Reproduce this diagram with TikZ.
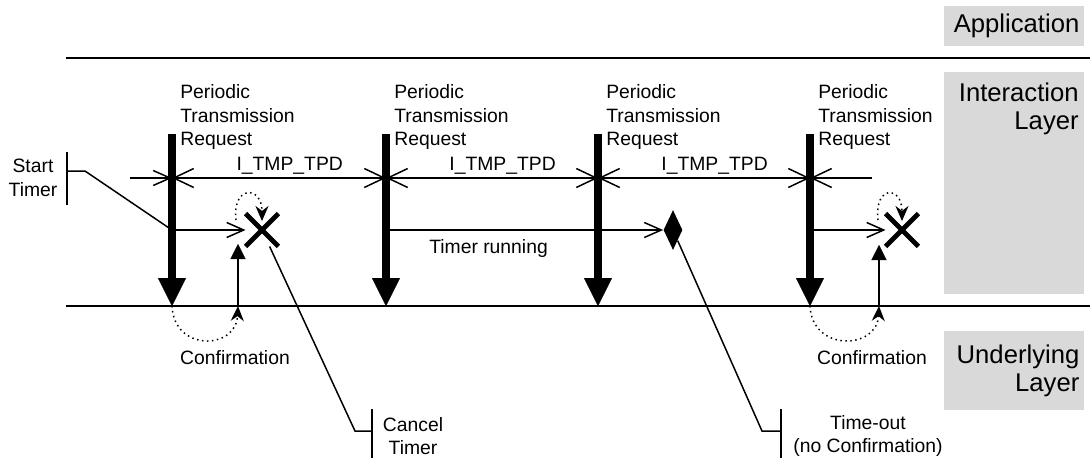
\documentclass[tikz,border=0pt]{standalone}
\usepackage{fontspec}
\setmainfont{Liberation Sans}
\usetikzlibrary{positioning, arrows.meta, shapes.geometric, shapes.misc}
\definecolor{laygray}{RGB}{217,217,217}

\begin{document}
\begin{tikzpicture}[
  x=0.02cm, y=-0.02cm,
  txt/.style={font=\fontsize{11}{13.3}\selectfont, inner sep=0pt, align=center},
  laytxt/.style={font=\fontsize{14.6}{15.9}\selectfont, inner sep=0pt, align=right},
  graybox/.style={fill=laygray, anchor=north west, minimum width=2.8cm, inner sep=0pt},
  thinline/.style={line width=0.85pt},
  request/.style={line width=4pt, -{Triangle[length=0.56cm, width=0.56cm, line width=0.1pt]}},
  timer/.style={thinline, -{Straight Barb[length=0.34cm, width=0.3cm]}},
  period/.style={thinline, {Straight Barb[length=0.4cm, width=0.38cm]}-{Straight Barb[length=0.4cm, width=0.38cm]}},
  confirm/.style={thinline, -{Triangle[length=0.3cm, width=0.3cm, line width=0.1pt]}},
  loopback/.style={thinline, dotted, -{Stealth[length=0.3cm, width=0.26cm]}},
  cancel/.style={cross out, draw, line width=2.8pt, minimum size=0.56cm, inner sep=0pt},
  timeout/.style={diamond, fill, inner sep=0pt, minimum width=0.38cm, minimum height=0.8cm}
]
  \useasboundingbox (0,0) rectangle (1090,458);

  % Layer boxes (right side)
  \node[graybox, minimum height=0.8cm, laytxt, text width=2.6cm, inner xsep=0.1cm] (app) at (944,6) {Application};
  \node[graybox, minimum height=4.44cm] (inter) at (944,72) {};
  \node[laytxt, anchor=north east] (intertxt) at (1079,83) {Interaction\\Layer};
  \node[graybox, minimum height=1.58cm, laytxt, text width=2.6cm, inner xsep=0.1cm] (under) at (944,331) {Underlying\\Layer};

  % Layer borders
  \coordinate (topL) at (66,58);
  \coordinate (topR) at (1090,58);
  \coordinate (botL) at (66,306);
  \coordinate (botR) at (1090,306);
  \draw[thinline] (topL) -- (topR);
  \draw[thinline] (botL) -- (botR);

  % Request points
  \coordinate (p1) at (172,134);
  \coordinate (p2) at (386,134);
  \coordinate (p3) at (598,134);
  \coordinate (p4) at (810,134);
  \coordinate (q1) at (172,306);
  \coordinate (q2) at (386,306);
  \coordinate (q3) at (598,306);
  \coordinate (q4) at (810,306);

  \node[txt, align=left, anchor=west] (req1) at (180,117) {Periodic\\Transmission\\Request};
  \node[txt, align=left, anchor=west] (req2) at (394,117) {Periodic\\Transmission\\Request};
  \node[txt, align=left, anchor=west] (req3) at (606,117) {Periodic\\Transmission\\Request};
  \node[txt, align=left, anchor=west] (req4) at (818,117) {Periodic\\Transmission\\Request};

  % Period marks
  \coordinate (m0) at (130,178);
  \coordinate (m1) at (172,178);
  \coordinate (m2) at (386,178);
  \coordinate (m3) at (598,178);
  \coordinate (m4) at (810,178);
  \coordinate (m5) at (872,178);
  \draw[timer] (m0) -- (m1);
  \draw[period] (m1) -- node[txt, above=1.5pt, pos=0.55] (tpd1) {I\_TMP\_TPD} (m2);
  \draw[period] (m2) -- node[txt, above=1.5pt, pos=0.55] (tpd2) {I\_TMP\_TPD} (m3);
  \draw[period] (m3) -- node[txt, above=1.5pt, pos=0.55] (tpd3) {I\_TMP\_TPD} (m4);
  \draw[thinline, {Straight Barb[length=0.4cm, width=0.38cm]}-] (m4) -- (m5);

  % Start timer
  \node[txt] (start) at (33,178) {Start\\Timer};
  \coordinate (sb1) at (67,152);
  \coordinate (sb2) at (67,205);
  \coordinate (sbm) at (67,171);
  \coordinate (sbk) at (85,171);
  \coordinate (a1) at (172,230);
  \draw[thinline] (sb1) -- (sb2);
  \draw[thinline] (sbm) -- (sbk) -- (a1);

  % First request: confirmed
  \node[cancel] (x1) at (262,230) {};
  \draw[timer] (a1) -- (x1.west);
  \coordinate (c1) at (238,306);
  \coordinate (c1t) at (238,244);
  \draw[confirm] (c1) -- (c1t);
  \draw[loopback] ([shift={(-26,-10)}]x1.center) .. controls +(-4,-35) and +(0,-36) .. ([shift={(0,-9)}]x1.center);
  \draw[loopback] (q1) .. controls +(2,46) and +(-2,44) .. (c1);
  \node[txt] (conf1) at (235,358) {Confirmation};

  % Cancel timer
  \coordinate (ck) at (355,431);
  \coordinate (cb) at (372,431);
  \coordinate (cb1) at (372,409);
  \coordinate (cb2) at (372,458);
  \draw[thinline] (x1) -- (ck) -- (cb);
  \draw[thinline] (cb1) -- (cb2);
  \node[txt] (canceltxt) at (413,436) {Cancel\\Timer};

  % Second request: no confirmation
  \coordinate (a2) at (386,230);
  \node[timeout] (dm) at (673,230) {};
  \draw[timer] (a2) -- node[txt, below=5pt, pos=0.37] (running) {Timer running} (dm.west);

  % Time-out
  \coordinate (tk) at (762,431);
  \coordinate (tb) at (781,431);
  \coordinate (tb1) at (781,409);
  \coordinate (tb2) at (781,458);
  \draw[thinline] (dm) -- (tk) -- (tb);
  \draw[thinline] (tb1) -- (tb2);
  \node[txt] (timeouttxt) at (868,436) {Time-out\\(no Confirmation)};

  % Fourth request: confirmed
  \coordinate (a4) at (810,230);
  \node[cancel] (x2) at (902,230) {};
  \draw[timer] (a4) -- (x2.west);
  \coordinate (c2) at (879,306);
  \coordinate (c2t) at (879,245);
  \draw[confirm] (c2) -- (c2t);
  \draw[loopback] ([shift={(-24,-10)}]x2.center) .. controls +(-4,-35) and +(0,-36) .. ([shift={(0,-9)}]x2.center);
  \draw[loopback] (q4) .. controls +(2,46) and +(-2,44) .. (c2);
  \node[txt] (conf2) at (872,358) {Confirmation};

  % Periodic transmission requests
  \draw[request] (p1) -- (q1);
  \draw[request] (p2) -- (q2);
  \draw[request] (p3) -- (q3);
  \draw[request] (p4) -- (q4);
\end{tikzpicture}
\end{document}
